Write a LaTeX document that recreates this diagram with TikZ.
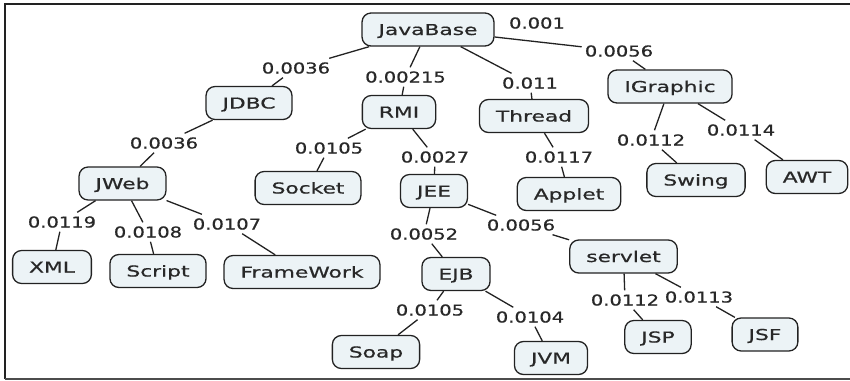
\documentclass[tikz,border=0pt]{standalone}
\usepackage{fontspec}
\newfontfamily\conceptfont[FakeStretch=1.45,FakeBold=0.7]{DejaVu Sans}
\newfontfamily\weightfont[FakeStretch=1.3,FakeBold=0.7]{DejaVu Sans}
\definecolor{cfill}{RGB}{236,243,246}
\definecolor{cline}{RGB}{34,34,34}
\definecolor{ctext}{RGB}{40,40,40}
\tikzset{
  concept/.style={draw=cline, fill=cfill, line width=1.3pt, rounded corners=9pt,
    inner xsep=16.5pt, inner ysep=0pt, minimum height=33pt,
    text height=11pt, text depth=0pt, text=ctext, font=\conceptfont\fontsize{15}{18}\selectfont},
  weight/.style={inner xsep=3pt, inner ysep=4pt, text height=11pt, text depth=0pt,
    text=ctext, font=\weightfont\fontsize{15}{18}\selectfont},
  link/.style={draw=cline, line width=1.3pt}
}
\begin{document}
\begin{tikzpicture}[x=1pt, y=-1pt]
\useasboundingbox (0,0) rectangle (850,380);
% frame
\draw[line width=2pt, cline] (850,4) -- (5,4) -- (5,379);
\draw[line width=1.5pt, black!70] (5,379.2) -- (850,379.2);

% concepts
\node[concept] (javabase) at (428,29.5) {JavaBase};
\node[concept] (jdbc) at (249,103) {JDBC};
\node[concept] (rmi) at (399,112) {RMI};
\node[concept] (thread) at (534,116) {Thread};
\node[concept] (igraphic) at (670,86.5) {IGraphic};
\node[concept] (jweb) at (122.5,183.5) {JWeb};
\node[concept] (socket) at (308,188) {Socket};
\node[concept] (jee) at (434,191) {JEE};
\node[concept] (applet) at (569,194) {Applet};
\node[concept] (swing) at (696,180) {Swing};
\node[concept] (awt) at (807,177) {AWT};
\node[concept] (xml) at (52,267) {XML};
\node[concept] (script) at (158,271) {Script};
\node[concept] (framework) at (302,272) {FrameWork};
\node[concept] (ejb) at (456,274) {EJB};
\node[concept] (servlet) at (623.5,256.5) {servlet};
\node[concept] (soap) at (376,352) {Soap};
\node[concept] (jvm) at (551,358) {JVM};
\node[concept] (jsp) at (658,337) {JSP};
\node[concept] (jsf) at (765,334.5) {JSF};

% weights
\node[weight] (w001) at (537,23) {0.001};
\node[weight] (wig) at (619,51) {0.0056};
\node[weight] (wjdbc) at (296,68) {0.0036};
\node[weight] (wrmi) at (405.5,77) {0.00215};
\node[weight] (wthread) at (530,83) {0.011};
\node[weight] (wjweb) at (164,143) {0.0036};
\node[weight] (wsocket) at (329,148) {0.0105};
\node[weight] (wjee) at (435,157) {0.0027};
\node[weight] (wapplet) at (559,157) {0.0117};
\node[weight] (wswing) at (651,140) {0.0112};
\node[weight] (wawt) at (741,130) {0.0114};
\node[weight] (wxml) at (62,222) {0.0119};
\node[weight] (wscript) at (148,232) {0.0108};
\node[weight] (wframe) at (227,224) {0.0107};
\node[weight] (wejb) at (424,234) {0.0052};
\node[weight] (wservlet) at (521,225) {0.0056};
\node[weight] (wsoap) at (430,310) {0.0105};
\node[weight] (wjvm) at (530,317) {0.0104};
\node[weight] (wjsp) at (625,300) {0.0112};
\node[weight] (wjsf) at (699,297) {0.0113};

% links
\foreach \a/\w/\b in {javabase/wjdbc/jdbc, javabase/wrmi/rmi, javabase/wthread/thread,
  javabase/wig/igraphic, jdbc/wjweb/jweb, rmi/wsocket/socket, rmi/wjee/jee,
  thread/wapplet/applet, igraphic/wswing/swing, igraphic/wawt/awt,
  jweb/wxml/xml, jweb/wscript/script, jweb/wframe/framework,
  jee/wejb/ejb, jee/wservlet/servlet, ejb/wsoap/soap, ejb/wjvm/jvm,
  servlet/wjsp/jsp, servlet/wjsf/jsf}
  {\draw[link] (\a) -- (\w); \draw[link] (\w) -- (\b);}
\end{tikzpicture}
\end{document}
